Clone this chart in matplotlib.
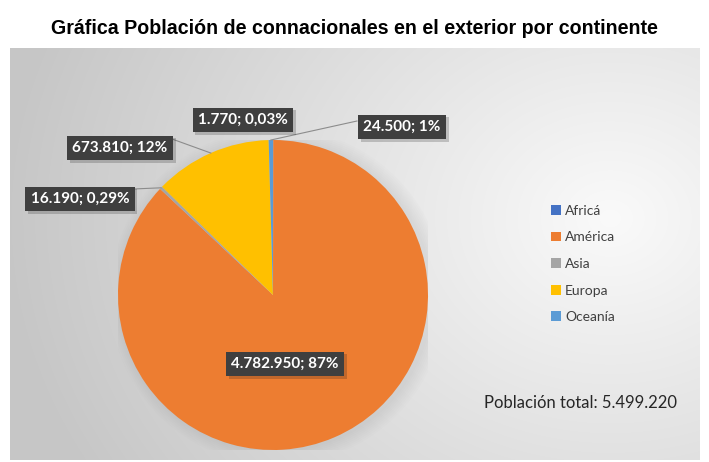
import matplotlib.pyplot as plt
import matplotlib.patheffects as pe
import numpy as np
from matplotlib.patches import Patch, Circle

# data
continentes = ['Africá', 'América', 'Asia', 'Europa', 'Oceanía']
poblacion = [1770, 4782950, 16190, 673810, 24500]
etiquetas = ['1.770; 0,03%', '4.782.950; 87%', '16.190; 0,29%', '673.810; 12%', '24.500; 1%']
colores = ['#4472C4', '#ED7D31', '#A5A5A5', '#FFC000', '#5B9BD5']
total_txt = 'Población total: 5.499.220'

W, H = 709, 462
fig = plt.figure(figsize=(W / 100, H / 100), dpi=100)

# gray gradient panel
bg = fig.add_axes([10 / W, 2 / H, 690 / W, 412 / H])
yy, xx = np.mgrid[0:412, 0:690]
d = np.sqrt((xx - 600) ** 2 + ((yy - 170) * 1.2) ** 2)
shade = 0.98 - 0.2 * np.clip(d / 600, 0, 1)
bg.imshow(np.dstack([shade] * 3), aspect='auto', extent=[0, 690, 412, 0])
bg.axis('off')

fig.text(0.5, 1 - 28 / H, 'Gráfica Población de connacionales en el exterior por continente',
         ha='center', va='center', fontsize=14.1, fontweight='bold', family='Liberation Sans')

# pie
cx, cy, r = 273, 295, 155
ax = fig.add_axes([(cx - r) / W, (H - cy - r) / H, 2 * r / W, 2 * r / H])
# soft shadow on the right
for k in range(8):
    ax.add_patch(Circle((0.03, -0.01), 1 + 0.012 * k, color='#808080', alpha=0.02, lw=0, zorder=0))
wedges, _ = ax.pie(poblacion, colors=colores, startangle=90, counterclock=False,
                   radius=1, wedgeprops=dict(linewidth=0, zorder=2))
ax.set_xlim(-1, 1)
ax.set_ylim(-1, 1)
ax.axis('off')

# label box centres (pixels) and leader line starts
pos = [(243, 120), (285, 364), (80, 199), (120, 148), (402, 127)]
anchors = [None, None, (133, 189), (172, 139), (357, 121)]

def to_data(px, py):
    return (px - cx) / r, (cy - py) / r

tot = sum(poblacion)
acum = 0
for i, v in enumerate(poblacion):
    mid = (acum + v / 2) / tot
    acum += v
    ang = np.deg2rad(90 - 360 * mid)
    tx, ty = to_data(*pos[i])
    if anchors[i] is not None:
        ax2, ay2 = to_data(*anchors[i])
        ax.plot([ax2, np.cos(ang)], [ay2, np.sin(ang)], color='#8c8c8c', lw=0.8,
                clip_on=False, zorder=3)
    t = ax.text(tx, ty, etiquetas[i], ha='center', va='center', color='white',
                fontsize=11, fontweight='bold', family='Lato', zorder=5, clip_on=False,
                bbox=dict(boxstyle='square,pad=0.35', fc='#3f3f3f', ec='none'))
    t.get_bbox_patch().set_path_effects([pe.withSimplePatchShadow(offset=(2, -2), alpha=0.2)])

# legend
handles = [Patch(facecolor=c, edgecolor='none') for c in colores]
fig.legend(handles, continentes, loc='center', bbox_to_anchor=(583 / W, 1 - 264 / H),
           frameon=False, handlelength=0.7, handleheight=0.7,
           handletextpad=0.3, labelspacing=1.05, prop=dict(family='Lato', size=10),
           labelcolor='#404040')

fig.text(580 / W, 1 - 403 / H, total_txt, ha='center', va='center', fontsize=12,
         family='Lato', color='#262626')

fig.savefig('out.png', dpi=100)
